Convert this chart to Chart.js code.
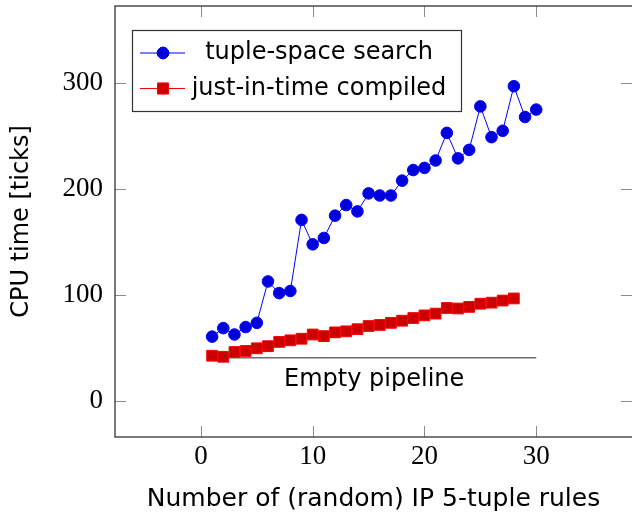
<!DOCTYPE html>
<html>
<head>
<meta charset="utf-8">
<script src="https://cdn.jsdelivr.net/npm/chart.js@4.4.1/dist/chart.umd.min.js"></script>
<style>
  html, body { margin: 0; padding: 0; background: #fff; overflow: hidden; }
  #wrap { width: 632px; height: 514px; }
  canvas { display: block; }
</style>
</head>
<body>
<div id="wrap"><canvas id="myChart" width="632" height="514"></canvas></div>
<script>
'use strict';

// Data
const ruleCounts = [1, 2, 3, 4, 5, 6, 7, 8, 9, 10, 11, 12, 13, 14, 15,
                    16, 17, 18, 19, 20, 21, 22, 23, 24, 25, 26, 27, 28, 29, 30];
const tupleSpace = [61, 69, 63, 70, 74, 113, 102, 104, 171, 148, 154, 175, 185, 179, 196,
                    194, 194, 208, 218, 220, 227, 253, 229, 237, 278, 249, 255, 297, 268, 275];
const jitCounts = ruleCounts.slice(0, 28);
const jitCompiled = [43, 42, 46.5, 47.5, 50, 52, 56, 57.5, 59, 63, 61.5, 65, 66, 68, 71,
                     72, 74, 76, 78.5, 81, 82.7, 88, 87.5, 89, 92, 93, 95, 97];
const pipelineX = [1, 30];
const pipelineY = [41, 41];
const pipelineLabel = 'Empty pipeline';
const seriesNames = ['tuple-space search', 'just-in-time compiled'];
const xTicks = [0, 10, 20, 30];
const yTicks = [0, 100, 200, 300];
const xTitle = 'Number of (random) IP 5-tuple rules';
const yTitle = 'CPU time [ticks]';

const SANS = '"DejaVu Sans", sans-serif';
const SERIF = '"Liberation Serif", serif';

function toPoints(xs, ys) {
    return xs.map((x, i) => ({ x: x, y: ys[i] }));
}

// Frame, inward ticks, legend box and the annotation text
const pgfDecor = {
    id: 'pgfDecor',
    afterDatasetsDraw(chart) {
        const ctx = chart.ctx;
        const area = chart.chartArea;
        const xs = chart.scales.x;
        const ys = chart.scales.y;
        ctx.save();

        // inward tick marks on all four sides
        ctx.strokeStyle = '#8c8c8c';
        ctx.lineWidth = 1;
        ctx.beginPath();
        xTicks.forEach(v => {
            const px = Math.round(xs.getPixelForValue(v)) + 0.5;
            ctx.moveTo(px, area.bottom); ctx.lineTo(px, area.bottom - 11);
            ctx.moveTo(px, area.top); ctx.lineTo(px, area.top + 11);
        });
        yTicks.forEach(v => {
            const py = Math.round(ys.getPixelForValue(v)) + 0.5;
            ctx.moveTo(area.left, py); ctx.lineTo(area.left + 11, py);
            ctx.moveTo(area.right, py); ctx.lineTo(area.right - 11, py);
        });
        ctx.stroke();

        // axis frame (right side falls just outside the canvas, as in the figure)
        ctx.strokeStyle = '#333';
        ctx.lineWidth = 1.3;
        ctx.strokeRect(area.left, area.top, area.right - area.left + 1, area.bottom - area.top);

        // annotation under the baseline
        ctx.fillStyle = '#000';
        ctx.font = '24px ' + SANS;
        ctx.textAlign = 'center';
        ctx.textBaseline = 'middle';
        ctx.fillText(pipelineLabel, xs.getPixelForValue(15.5), ys.getPixelForValue(20.7));

        // legend
        const bx = area.left + 17, by = area.top + 24, bw = 329, bh = 81;
        ctx.fillStyle = '#fff';
        ctx.fillRect(bx, by, bw, bh);
        ctx.strokeStyle = '#333';
        ctx.lineWidth = 1.2;
        ctx.strokeRect(bx + 0.5, by + 0.5, bw, bh);
        const rows = [by + 23, by + 58.5];
        chart.data.datasets.slice(0, 2).forEach((ds, i) => {
            const y = rows[i];
            ctx.strokeStyle = ds.borderColor;
            ctx.lineWidth = 1;
            ctx.beginPath();
            ctx.moveTo(bx + 8, y); ctx.lineTo(bx + 53, y);
            ctx.stroke();
            Chart.helpers.drawPoint(ctx, {
                pointStyle: ds.pointStyle,
                radius: ds.pointRadius,
                borderWidth: ds.pointBorderWidth
            }, bx + 31, y);
            ctx.fillStyle = ds.pointBackgroundColor;
            ctx.strokeStyle = ds.pointBorderColor;
            ctx.fill();
            ctx.stroke();
            ctx.fillStyle = '#000';
            ctx.font = '24px ' + SANS;
            ctx.textAlign = 'center';
            ctx.textBaseline = 'middle';
            ctx.fillText(seriesNames[i], bx + 187, y);
        });
        ctx.restore();
    }
};

function setupChart() {
    const ctx = document.getElementById('myChart').getContext('2d');

    new Chart(ctx, {
        type: 'line',
        data: {
            datasets: [{
                label: seriesNames[0],
                data: toPoints(ruleCounts, tupleSpace),
                borderColor: '#0000ff',
                borderWidth: 1,
                pointStyle: 'circle',
                pointRadius: 5.8,
                pointBorderWidth: 1,
                pointBackgroundColor: '#0000dd',
                pointBorderColor: '#0000ff',
                tension: 0,
                order: 1
            }, {
                label: seriesNames[1],
                data: toPoints(jitCounts, jitCompiled),
                borderColor: '#ff0000',
                borderWidth: 1,
                pointStyle: 'rect',
                pointRadius: 7.6,
                pointBorderWidth: 1,
                pointBackgroundColor: '#cc0000',
                pointBorderColor: '#ff0000',
                tension: 0,
                order: 2
            }, {
                label: pipelineLabel,
                data: toPoints(pipelineX, pipelineY),
                borderColor: '#222',
                borderWidth: 1,
                pointRadius: 0,
                order: 3
            }]
        },
        options: {
            responsive: false,
            animation: false,
            devicePixelRatio: 1,
            layout: { autoPadding: false, padding: { left: 0, top: 6, right: 0, bottom: 0 } },
            plugins: {
                legend: { display: false },
                tooltip: { enabled: false }
            },
            scales: {
                x: {
                    type: 'linear',
                    min: -7.69,
                    max: 38.57,
                    afterFit: scale => {
                        scale.height = 77;
                        scale.paddingLeft = 0;
                        scale.paddingRight = 0;
                    },
                    afterBuildTicks: scale => { scale.ticks = xTicks.map(v => ({ value: v })); },
                    grid: { display: false, drawTicks: false },
                    border: { display: false },
                    ticks: {
                        color: '#000',
                        font: { family: SERIF, size: 27 },
                        padding: 4,
                        maxRotation: 0
                    },
                    title: {
                        display: true,
                        text: xTitle,
                        color: '#000',
                        font: { family: SANS, size: 25 },
                        padding: { top: 0, bottom: 0 }
                    }
                },
                y: {
                    min: -33.6,
                    max: 372.6,
                    afterFit: scale => {
                        scale.width = 115;
                        scale.paddingTop = 0;
                        scale.paddingBottom = 0;
                    },
                    afterBuildTicks: scale => { scale.ticks = yTicks.map(v => ({ value: v })); },
                    grid: { display: false, drawTicks: false },
                    border: { display: false },
                    ticks: {
                        color: '#000',
                        font: { family: SERIF, size: 27 },
                        padding: 12
                    },
                    title: {
                        display: true,
                        text: yTitle,
                        color: '#000',
                        font: { family: SANS, size: 24 },
                        padding: { top: 7, bottom: 0 }
                    }
                }
            }
        },
        plugins: [pgfDecor]
    });
}

window.onload = setupChart;
</script>
</body>
</html>
